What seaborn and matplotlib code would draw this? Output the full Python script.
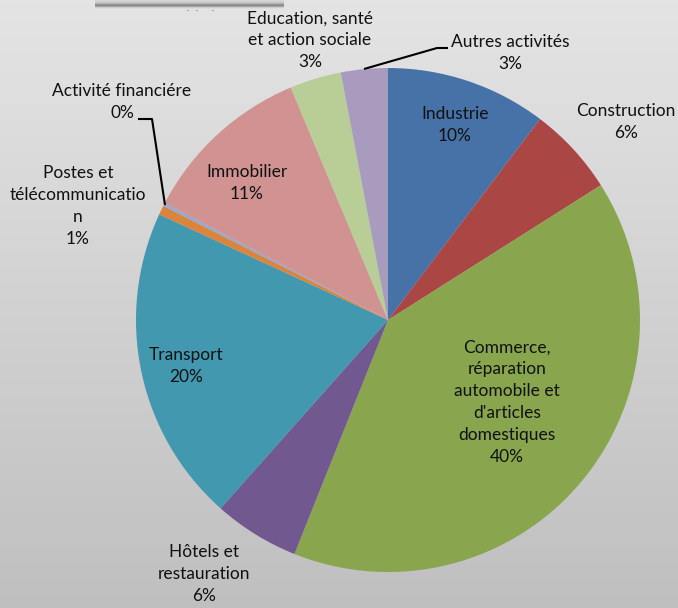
import numpy as np
import matplotlib
matplotlib.use("Agg")
import matplotlib.pyplot as plt
import seaborn as sns

sns.set_style("white")
plt.rcParams['font.family'] = ['Lato', 'DejaVu Sans']

categories = ["Industrie", "Construction",
              "Commerce,\nréparation\nautomobile et\nd'articles\ndomestiques",
              "Hôtels et\nrestauration", "Transport",
              "Postes et\ntélécommunicatio\nn", "Activité financiére",
              "Immobilier", "Education, santé\net action sociale",
              "Autres activités"]
values = [10.3, 5.7, 40.0, 5.5, 20.3, 0.6, 0.2, 11.0, 3.3, 3.0]
pct_labels = ["10%", "6%", "40%", "6%", "20%", "1%", "0%", "11%", "3%", "3%"]
colors = ["#4672a8", "#aa4643", "#89a54e", "#71588f", "#4198af",
          "#db843d", "#93a9cf", "#d19392", "#b9cd96", "#a99bbd"]
palette = sns.color_palette(colors)

W, H = 678, 608
fig = plt.figure(figsize=(W / 100, H / 100), dpi=100)

# background gradient
bg = fig.add_axes([0, 0, 1, 1])
grad = np.linspace(0, 1, 256).reshape(-1, 1)
top = np.array([0.895, 0.895, 0.895])
bot = np.array([0.75, 0.75, 0.75])
img = top + (bot - top) * grad[..., None]
img = np.repeat(img, 2, axis=1)
bg.imshow(img, aspect="auto", extent=[0, 1, 0, 1], origin="upper")
bg.set_axis_off()

# partial title box at top (cut off), with its shadow
boxax = fig.add_axes([95 / W, 1 - 9 / H, 189 / W, 9 / H])
shades = np.array([0.84, 0.82, 0.78, 0.70, 0.60, 0.53, 0.66, 0.80, 0.87])
bimg = np.repeat(shades[:, None, None], 3, axis=2)
bimg = np.repeat(bimg, 4, axis=1)
boxax.imshow(bimg, aspect="auto", extent=[0, 1, 0, 1], origin="upper",
             interpolation="bilinear")
boxax.set_axis_off()
for px in (188, 197, 213):
    fig.text(px / W, 1 - 11 / H, "·", fontsize=5, color="#555555",
             ha="center", va="center")

cx, cy, r = 388, 320, 252
ax = fig.add_axes([(cx - r) / W, (H - cy - r) / H, 2 * r / W, 2 * r / H])
ax.pie(values, colors=palette, startangle=90, counterclock=False, radius=1,
       wedgeprops=dict(linewidth=0, edgecolor="none"))
ax.set_xlim(-1, 1)
ax.set_ylim(-1, 1)
ax.set_aspect("equal")
ax.set_axis_off()


def d(px, py):
    return (px - cx) / r, (cy - py) / r


label_pos = [(455, 125), (626, 122), (507, 402), (204, 574), (186, 366),
             (78, 206), (122, 102), (247, 183), (310, 40), (510, 53)]
for cat, pct, (px, py) in zip(categories, pct_labels, label_pos):
    x, y = d(px, py)
    ax.text(x, y, f"{cat}\n{pct}", ha="center", va="center", fontsize=12.5,
            color="#111111", linespacing=1.45, clip_on=False)

# leader lines
for pts in ([(138, 119), (152, 119), (165, 205)],
            [(364, 69), (437, 48), (448, 48)]):
    xs, ys = zip(*[d(px, py) for px, py in pts])
    ax.plot(xs, ys, color="black", lw=1.5, clip_on=False, solid_capstyle="butt")

fig.savefig("out.png", dpi=100)
